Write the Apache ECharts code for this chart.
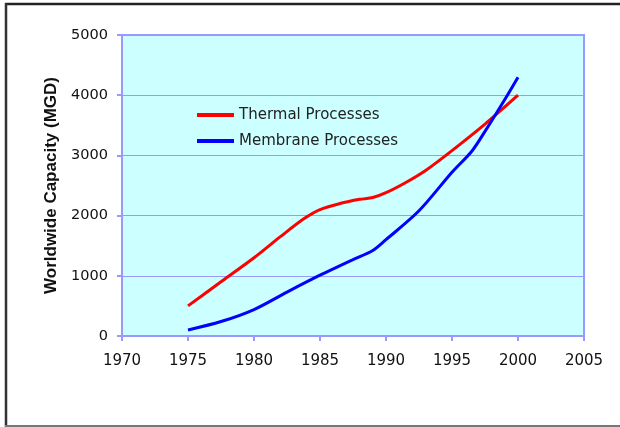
<!DOCTYPE html>
<html>
<head>
<meta charset="utf-8">
<script src="https://cdn.jsdelivr.net/npm/echarts@6/dist/echarts.min.js"></script>
<style>
html,body{margin:0;padding:0;background:#fff;}
#c{width:620px;height:427px;}
</style>
</head>
<body>
<div id="c"></div>
<script>
var seriesNames = ["Thermal Processes", "Membrane Processes"];
var thermalYears = [1975, 1977.5, 1980, 1982, 1983.8, 1985, 1986.5, 1988, 1989, 1990, 1991.5, 1993, 1995, 1997.5, 2000];
var thermalValues = [500, 900, 1300, 1650, 1950, 2100, 2200, 2270, 2300, 2380, 2550, 2750, 3080, 3520, 4000];
var membraneYears = [1975, 1977.5, 1980, 1982.5, 1985, 1987.5, 1989, 1990, 1992.5, 1995, 1996.5, 1997.5, 1999, 2000];
var membraneValues = [100, 240, 440, 730, 1010, 1270, 1420, 1600, 2080, 2720, 3070, 3400, 3930, 4300];
var yAxisTitle = "Worldwide Capacity (MGD)";

function pairs(xs, ys){ return xs.map(function(x,i){ return [x, ys[i]]; }); }

var chart = echarts.init(document.getElementById('c'), null, {renderer:'canvas'});
var font = '"DejaVu Sans", sans-serif';
chart.setOption({
  animation: false,
  backgroundColor: '#fff',
  graphic: [
    {type:'line', shape:{x1:5, y1:4, x2:620, y2:4}, style:{stroke:'#222', lineWidth:2.5}},
    {type:'line', shape:{x1:6, y1:3, x2:6, y2:427}, style:{stroke:'#333', lineWidth:2.5}},
    {type:'line', shape:{x1:5, y1:426, x2:620, y2:426}, style:{stroke:'#777', lineWidth:2}}
  ],
  grid: {left:122, top:35, right:36, bottom:91, show:true, backgroundColor:'#CCFFFF', borderColor:'#9999FF', borderWidth:2},
  legend: {
    orient:'vertical', left:192, top:102, itemWidth:37, itemHeight:4, itemGap:10,
    icon:'rect',
    data: seriesNames,
    textStyle:{fontFamily:font, fontSize:15, lineHeight:16, color:'#222', padding:[0,0,0,0]}
  },
  xAxis: {
    type:'value', min:1970, max:2005, interval:5,
    axisLine:{show:true, lineStyle:{color:'#9999FF', width:2}},
    axisTick:{show:true, length:5, lineStyle:{color:'#9999FF', width:2}},
    axisLabel:{fontFamily:font, fontSize:15, color:'#111', margin:18, formatter:function(v){return String(v);}},
    splitLine:{show:false}
  },
  yAxis: {
    type:'value', min:0, max:5000, interval:1000,
    name: yAxisTitle, nameLocation:'middle', nameGap:58, nameRotate:90,
    nameTextStyle:{fontFamily:'"Liberation Sans", Arial, sans-serif', fontSize:17, fontWeight:'bold', color:'#111'},
    axisLine:{show:true, lineStyle:{color:'#9999FF', width:2}},
    axisTick:{show:true, length:5, lineStyle:{color:'#9999FF', width:2}},
    axisLabel:{fontFamily:font, fontSize:14.5, color:'#111', margin:14, formatter:function(v){return String(v);}},
    splitLine:{show:true, lineStyle:{color:'#9999FF', width:1}}
  },
  series: [
    {name:seriesNames[0], type:'line', smooth:0.3, showSymbol:false, symbol:'none',
     data:pairs(thermalYears, thermalValues), lineStyle:{color:'#FF0000', width:3}, itemStyle:{color:'#FF0000'}},
    {name:seriesNames[1], type:'line', smooth:0.3, showSymbol:false, symbol:'none',
     data:pairs(membraneYears, membraneValues), lineStyle:{color:'#0000FF', width:3}, itemStyle:{color:'#0000FF'}}
  ]
});
</script>
</body>
</html>
